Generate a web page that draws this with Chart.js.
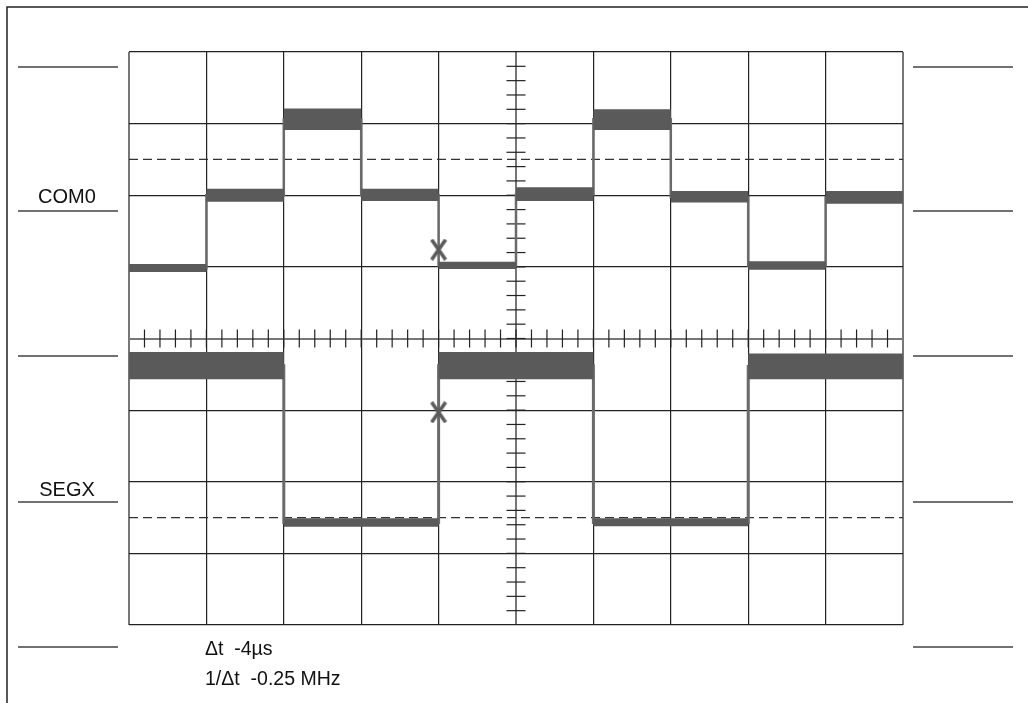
<!DOCTYPE html>
<html>
<head>
<meta charset="utf-8">
<script src="https://cdn.jsdelivr.net/npm/chart.js@4.4.1/dist/chart.umd.min.js"></script>
<style>
  html, body { margin: 0; padding: 0; background: #fff; }
  #wrap { width: 1028px; height: 703px; }
</style>
</head>
<body>
<div id="wrap"><canvas id="scope" width="1028" height="703"></canvas></div>
<script>
// screen divisions: 10 across (time), 8 up (volts)
var divX = [0, 1, 2, 3, 4, 5, 6, 7, 8, 9, 10];
var divMaxY = 8;

// COM0 trace, one level per time division (top / bottom of the thick trace, and its middle)
var com0Top = [5.04, 6.09, 7.21, 6.09, 5.07, 6.11, 7.20, 6.06, 5.08, 6.06];
var com0Bot = [4.93, 5.91, 6.91, 5.92, 4.97, 5.92, 6.91, 5.90, 4.96, 5.88];
var com0Mid = [4.98, 6.00, 7.06, 6.00, 5.02, 6.01, 7.06, 5.98, 5.02, 5.97];

// SEGX trace
var segxTop = [3.81, 3.81, 1.49, 1.49, 3.81, 3.81, 1.49, 1.49, 3.79, 3.79];
var segxBot = [3.43, 3.43, 1.37, 1.37, 3.43, 3.43, 1.38, 1.38, 3.43, 3.43];
var segxMid = [3.62, 3.62, 1.43, 1.43, 3.62, 3.62, 1.43, 1.43, 3.61, 3.61];

// cursor marks
var cursorX = [4, 4];
var cursorY = [5.24, 2.97];

// dashed reference levels
var dashLevels = [6.5, 1.5];

var traceNames = ['COM0', 'SEGX'];
var readouts = ['\u0394t  -4\u00B5s', '1/\u0394t  -0.25 MHz'];

var minorStep = 0.2;

function stepPoints(vals) {
    var pts = [];
    for (var i = 0; i < divX.length; i++) {
        pts.push({ x: divX[i], y: vals[Math.min(i, vals.length - 1)] });
    }
    return pts;
}

// small ticks along the two centre axes
var centreX = 5, centreY = 4;
var ticksOnY = [], ticksOnX = [];
for (var k = 1; k * minorStep < divMaxY - 0.01; k++) {
    ticksOnY.push({ x: centreX, y: +(k * minorStep).toFixed(2) });
}
for (var k = 1; k * minorStep < 10 - 0.01; k++) {
    ticksOnX.push({ x: +(k * minorStep).toFixed(2), y: centreY });
}

var trace = '#5a5a5a';
var edge = '#6a6a6a';

// the cursor "x" is a bit taller than wide, so draw it once on a small canvas
var xMark = document.createElement('canvas');
xMark.width = 18;
xMark.height = 22;
(function () {
    var c = xMark.getContext('2d');
    c.strokeStyle = trace;
    c.lineWidth = 3.6;
    c.lineCap = 'butt';
    c.beginPath();
    c.moveTo(2, 1); c.lineTo(16, 21);
    c.moveTo(16, 1); c.lineTo(2, 21);
    c.stroke();
})();

function band(vals, fillIt) {
    return {
        type: 'line',
        data: stepPoints(vals),
        stepped: 'before',
        borderWidth: 0,
        pointRadius: 0,
        backgroundColor: trace,
        fill: fillIt ? '-1' : false,
        order: 2
    };
}

function edgeLine(vals, w) {
    return {
        type: 'line',
        data: stepPoints(vals),
        stepped: 'before',
        borderColor: edge,
        borderWidth: w,
        pointRadius: 0,
        fill: false,
        order: 3
    };
}

var datasets = [
    band(com0Top, false),
    band(com0Bot, true),
    band(segxTop, false),
    band(segxBot, true),
    edgeLine(com0Mid, 2.5),
    edgeLine(segxMid, 3)
];

dashLevels.forEach(function (lv) {
    datasets.push({
        type: 'line',
        data: [{ x: divX[0], y: lv }, { x: divX[divX.length - 1], y: lv }],
        borderColor: '#333',
        borderWidth: 1.2,
        borderDash: [9, 5],
        pointRadius: 0,
        fill: false,
        order: 4
    });
});

datasets.push({
    type: 'scatter',
    data: ticksOnY,
    pointStyle: 'line',
    pointRadius: 9.5,
    borderColor: '#222',
    borderWidth: 1.2,
    order: 5
});
datasets.push({
    type: 'scatter',
    data: ticksOnX,
    pointStyle: 'line',
    rotation: 90,
    pointRadius: 9,
    borderColor: '#222',
    borderWidth: 1.2,
    order: 5
});

datasets.push({
    type: 'scatter',
    data: cursorX.map(function (x, i) { return { x: x, y: cursorY[i] }; }),
    pointStyle: xMark,
    pointRadius: 11,
    order: 1
});

var scopeDecor = {
    id: 'scopeDecor',
    beforeDraw: function (chart) {
        var ctx = chart.ctx;
        ctx.save();
        ctx.fillStyle = '#fff';
        ctx.fillRect(0, 0, chart.width, chart.height);
        ctx.strokeStyle = '#222';
        ctx.lineWidth = 1.5;
        ctx.beginPath();
        ctx.moveTo(7, chart.height);
        ctx.lineTo(7, 7);
        ctx.lineTo(chart.width, 7);
        ctx.stroke();
        ctx.restore();
    },
    afterDraw: function (chart) {
        var ctx = chart.ctx;
        var ca = chart.chartArea;
        var rows = [67, 211, 356, 502, 647];
        ctx.save();
        ctx.strokeStyle = '#444';
        ctx.lineWidth = 1.5;
        rows.forEach(function (y) {
            ctx.beginPath();
            ctx.moveTo(ca.left - 111, y);
            ctx.lineTo(ca.left - 11, y);
            ctx.moveTo(ca.right + 10, y);
            ctx.lineTo(ca.right + 110, y);
            ctx.stroke();
        });
        ctx.fillStyle = '#111';
        ctx.font = '20px "Liberation Sans", Arial, sans-serif';
        ctx.textAlign = 'center';
        ctx.textBaseline = 'alphabetic';
        ctx.fillText(traceNames[0], ca.left - 62, 203);
        ctx.fillText(traceNames[1], ca.left - 62, 496);
        ctx.font = '19.5px "Liberation Sans", Arial, sans-serif';
        ctx.textAlign = 'left';
        ctx.fillText(readouts[0], 205, 655);
        ctx.fillText(readouts[1], 205, 685);
        ctx.restore();
    }
};

new Chart(document.getElementById('scope'), {
    type: 'line',
    data: { datasets: datasets },
    options: {
        responsive: false,
        animation: false,
        events: [],
        layout: { padding: { left: 129, right: 125, top: 52, bottom: 78 } },
        plugins: { legend: { display: false }, tooltip: { enabled: false } },
        scales: {
            x: {
                type: 'linear', min: 0, max: 10,
                ticks: { display: false, stepSize: 1 },
                grid: {
                    drawTicks: false,
                    color: function (c) { return (c.tick.value === 5 || c.tick.value === 0 || c.tick.value === 10) ? '#777' : '#222'; },
                    lineWidth: function (c) { return (c.tick.value === 5 || c.tick.value === 0 || c.tick.value === 10) ? 2 : 1.2; }
                },
                border: { display: false }
            },
            y: {
                type: 'linear', min: 0, max: divMaxY,
                ticks: { display: false, stepSize: 1 },
                grid: {
                    drawTicks: false,
                    color: function (c) { return c.tick.value === 4 ? '#777' : '#222'; },
                    lineWidth: function (c) { return c.tick.value === 4 ? 2 : 1.2; }
                },
                border: { display: false }
            }
        }
    },
    plugins: [scopeDecor]
});
</script>
</body>
</html>
